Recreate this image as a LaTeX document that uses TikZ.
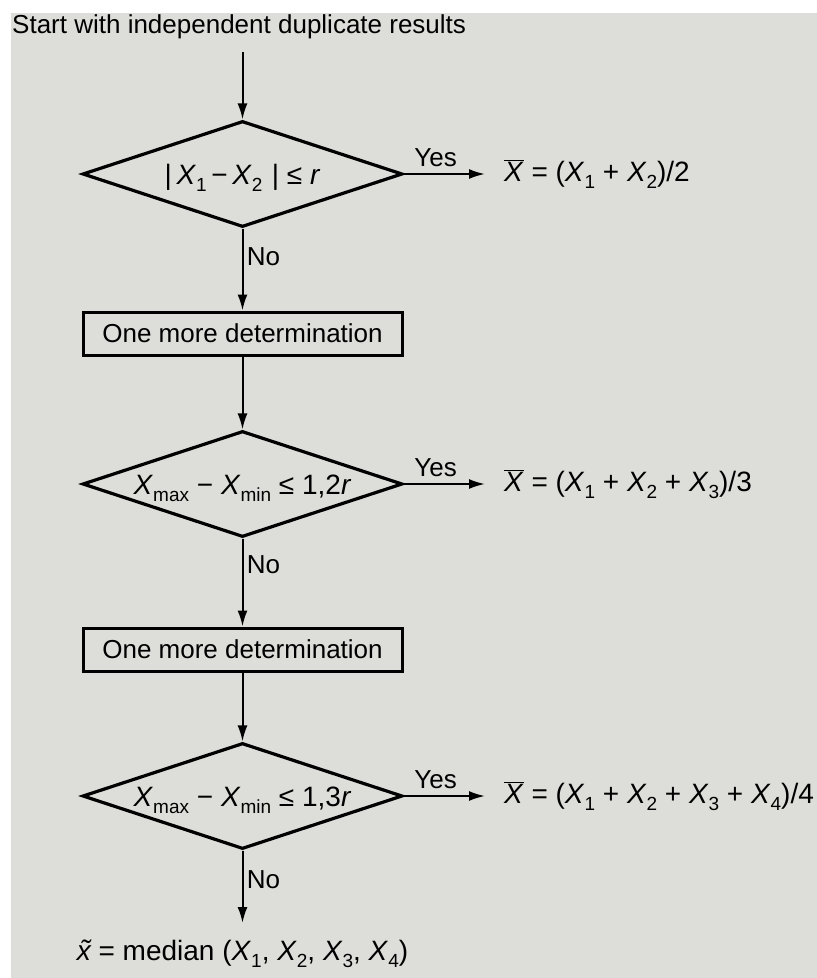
\documentclass[tikz,border=0pt]{standalone}
\usepackage{fontspec}
\setmainfont{Liberation Sans}
\usetikzlibrary{arrows.meta,shapes.geometric}

\definecolor{sheet}{RGB}{221,222,217}
\newcommand{\sub}[1]{\raisebox{-7pt}{\fontsize{19}{19}\selectfont #1}}
\newcommand{\vX}{\textit{X}}
\newcommand{\mX}{$\overline{\mbox{\textit{X}}}$}
\newcommand{\cond}[1]{\smash{\raisebox{-10pt}{#1}}}

\begin{document}
\begin{tikzpicture}[x=1pt, y=-1pt, >={Latex[length=16pt,width=10pt]},
    every node/.style={font=\fontsize{26}{31}\selectfont},
    formula/.style={font=\fontsize{28}{33}\selectfont},
    decision/.style={draw, diamond, aspect=3.02, formula, line width=3.2pt, minimum width=320pt, minimum height=106pt, inner sep=0pt},
    process/.style={draw, rectangle, line width=3pt, minimum width=319pt, minimum height=43pt, inner sep=0pt},
    flow/.style={->, line width=2pt},
    result/.style={formula, anchor=west, inner xsep=19pt, inner ysep=0pt}]

% ---- Sheet ----
            \useasboundingbox (0,0) rectangle (817,978);
            \fill[white] (0,0) rectangle (817,978);
            \fill[sheet] (11,13) rectangle (817,978);

% ---- Start ----
            \node[anchor=base west, inner sep=0pt] (title) at (12,33) {Start with independent duplicate results};
            \coordinate (top) at (242.5,52);

% ---- Decisions and extra determinations ----
            \node[decision] (d1) at (242.5,174) {\cond{|\,\vX\sub{1}\,−\,\vX\sub{2}\,\,| ≤ \textit{r}}};
            \node[process] (b1) at (242.5,333.5) {One more determination};
            \node[decision] (d2) at (242.5,484) {\cond{\vX\sub{max} − \vX\sub{min} ≤ 1,2\textit{r}}};
            \node[process] (b2) at (242.5,649.5) {One more determination};
            \node[decision] (d3) at (242.5,796) {\cond{\vX\sub{max} − \vX\sub{min} ≤ 1,3\textit{r}}};

% ---- Results ----
            \node[result] (r1) at (485,174) {\mX{} = (\vX\sub{1} + \vX\sub{2})/2};
            \node[result] (r2) at (485,484) {\mX{} = (\vX\sub{1} + \vX\sub{2} + \vX\sub{3})/3};
            \node[result] (r3) at (485,796) {\mX{} = (\vX\sub{1} + \vX\sub{2} + \vX\sub{3} + \vX\sub{4})/4};
            \coordinate (fin) at (242.5,923);
            \node[formula, anchor=base] (med) at (242.5,960) {\textit{\~{x}} = median (\vX\sub{1}, \vX\sub{2}, \vX\sub{3}, \vX\sub{4})};

% ---- Main flow (No) ----
            \draw[flow] (top) -- (d1.north);
            \draw[flow] (d1.south) -- node[right, pos=0.34] {No} (b1.north);
            \draw[flow] (b1.south) -- (d2.north);
            \draw[flow] (d2.south) -- node[right, pos=0.3] {No} (b2.north);
            \draw[flow] (b2.south) -- (d3.north);
            \draw[flow] (d3.south) -- node[right, pos=0.4] {No} (fin);

% ---- Yes branches ----
            \foreach \d/\r in {d1/r1,d2/r2,d3/r3} {
                \draw[flow] (\d.east) -- node[above, pos=0.39, inner sep=6pt] {Yes} (\r.west);
            }

\end{tikzpicture}
\end{document}
